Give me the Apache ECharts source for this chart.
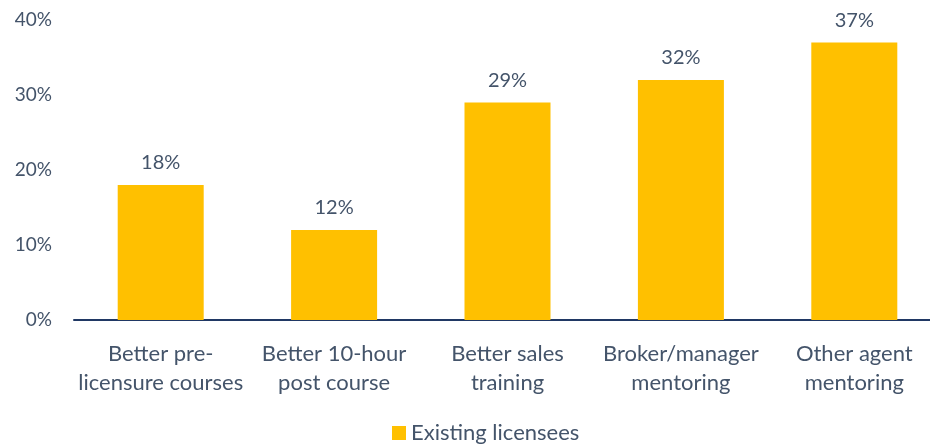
<!DOCTYPE html>
<html>
<head>
<meta charset="utf-8">
<script src="https://cdn.jsdelivr.net/npm/echarts@6/dist/echarts.min.js"></script>
<style>
  html, body { margin: 0; padding: 0; background: #fff; }
  #chart { width: 930px; height: 446px; }
</style>
</head>
<body>
<div id="chart"></div>
<script>
const categories = [
  'Better pre-\nlicensure courses',
  'Better 10-hour\npost course',
  'Better sales\ntraining',
  'Broker/manager\nmentoring',
  'Other agent\nmentoring'
];
const existingLicensees = [18, 12, 29, 32, 37];
const yTicks = [0, 10, 20, 30, 40];

const textColor = '#44546A';
const font = 'Lato, "Noto Sans", sans-serif';

const chart = echarts.init(document.getElementById('chart'));
chart.setOption({
  animation: false,
  textStyle: { fontFamily: font },
  grid: { left: 74, top: 20, width: 867, height: 300, outerBoundsMode: 'none' },
  legend: {
    top: 422,
    left: 392,
    padding: 0,
    itemWidth: 14,
    itemHeight: 14,
    icon: 'rect',
    itemGap: 6,
    textStyle: { color: textColor, fontSize: 22, fontFamily: font },
    data: ['Existing licensees']
  },
  xAxis: {
    type: 'category',
    data: categories,
    axisLine: { lineStyle: { color: '#203864', width: 2 } },
    axisTick: { show: false },
    axisLabel: { color: textColor, fontSize: 22, lineHeight: 29, margin: 19, interval: 0 }
  },
  yAxis: {
    type: 'value',
    min: yTicks[0],
    max: yTicks[yTicks.length - 1],
    interval: 10,
    splitLine: { show: false },
    axisLine: { show: false },
    axisTick: { show: false },
    axisLabel: { color: textColor, fontSize: 19, margin: 22, formatter: '{value}%' }
  },
  series: [{
    name: 'Existing licensees',
    type: 'bar',
    data: existingLicensees,
    barWidth: 86,
    itemStyle: { color: '#FFC000' },
    label: {
      show: true,
      position: 'top',
      distance: 12,
      color: textColor,
      fontSize: 20,
      formatter: '{c}%'
    }
  }]
});
</script>
</body>
</html>
